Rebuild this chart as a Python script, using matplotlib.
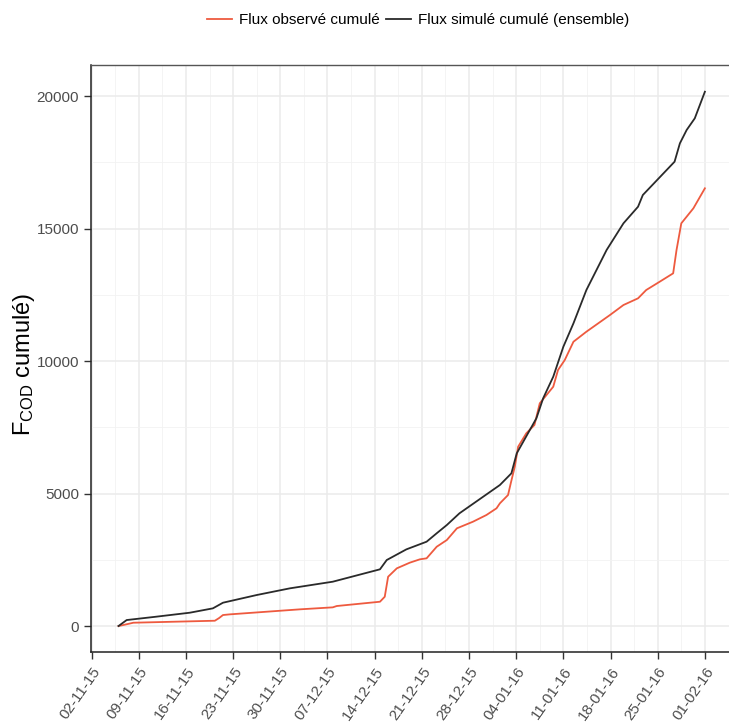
import matplotlib
matplotlib.use("Agg")
import matplotlib.pyplot as plt
import matplotlib.dates as mdates
from matplotlib.ticker import MultipleLocator
import pandas as pd

plt.rcParams['font.family'] = ['Liberation Sans', 'DejaVu Sans']
plt.rcParams['mathtext.default'] = 'regular'

# Flux observé cumulé
obs_dates = ["2015-11-06 00:00", "2015-11-06 17:00", "2015-11-08 05:00", "2015-11-20 07:00",
             "2015-11-20 22:00", "2015-11-21 12:00", "2015-11-22 12:00", "2015-12-02 22:00",
             "2015-12-07 19:00", "2015-12-08 09:00", "2015-12-14 19:00", "2015-12-15 12:00",
             "2015-12-16 00:00", "2015-12-17 07:00", "2015-12-19 05:00", "2015-12-20 17:00",
             "2015-12-21 17:00", "2015-12-23 05:00", "2015-12-24 17:00", "2015-12-26 05:00",
             "2015-12-28 14:00", "2015-12-30 14:00", "2016-01-01 02:00", "2016-01-01 14:00",
             "2016-01-02 19:00", "2016-01-03 05:00", "2016-01-03 19:00", "2016-01-04 07:00",
             "2016-01-05 12:00", "2016-01-06 17:00", "2016-01-07 12:00", "2016-01-09 12:00",
             "2016-01-10 05:00", "2016-01-11 05:00", "2016-01-12 12:00", "2016-01-14 10:00",
             "2016-01-17 22:00", "2016-01-19 22:00", "2016-01-22 02:00", "2016-01-23 07:00",
             "2016-01-25 07:00", "2016-01-27 07:00", "2016-01-27 19:00", "2016-01-28 12:00",
             "2016-01-30 07:00", "2016-02-01 00:00"]
obs_vals = [0, 38, 125, 200, 300, 415, 440, 630, 705, 755, 917, 1105, 1860, 2177, 2390, 2517,
            2555, 2992, 3245, 3687, 3936, 4189, 4442, 4630, 4943, 5400, 6011, 6766, 7272, 7585,
            8404, 9030, 9660, 10038, 10728, 11106, 11736, 12113, 12366, 12679, 12992, 13309,
            14189, 15196, 15762, 16517]

# Flux simulé cumulé (ensemble)
sim_dates = ["2015-11-06 00:00", "2015-11-07 05:00", "2015-11-11 14:00", "2015-11-16 14:00",
             "2015-11-20 00:00", "2015-11-21 12:00", "2015-11-26 12:00", "2015-12-01 10:00",
             "2015-12-07 19:00", "2015-12-14 19:00", "2015-12-15 19:00", "2015-12-18 17:00",
             "2015-12-21 17:00", "2015-12-23 05:00", "2015-12-24 17:00", "2015-12-26 14:00",
             "2016-01-01 14:00", "2016-01-03 07:00", "2016-01-04 02:00", "2016-01-07 00:00",
             "2016-01-08 00:00", "2016-01-09 12:00", "2016-01-11 00:00", "2016-01-12 12:00",
             "2016-01-14 10:00", "2016-01-17 10:00", "2016-01-19 22:00", "2016-01-22 02:00",
             "2016-01-22 19:00", "2016-01-27 12:00", "2016-01-28 07:00", "2016-01-29 07:00",
             "2016-01-30 12:00", "2016-02-01 00:00"]
sim_vals = [0, 226, 352, 503, 667, 880, 1170, 1422, 1673, 2140, 2490, 2893, 3182, 3500, 3811,
            4253, 5321, 5762, 6517, 7838, 8592, 9408, 10540, 11423, 12679, 14189, 15196, 15823,
            16264, 17521, 18215, 18717, 19158, 20162]

tick_start = "2015-11-02"
tick_end = "2016-02-01"

obs_t = pd.to_datetime(obs_dates)
sim_t = pd.to_datetime(sim_dates)

fig = plt.figure(figsize=(7.29, 7.22), dpi=100)
ax = fig.add_axes([91 / 729, 70 / 722, 1 - 91 / 729, 587 / 722])

ax.plot(obs_t, obs_vals, color='#EE5A3F', lw=1.3, label='Flux observé cumulé')
ax.plot(sim_t, sim_vals, color='#2a2a2a', lw=1.3, label='Flux simulé cumulé (ensemble)')

ticks = pd.date_range(tick_start, tick_end, freq='7D')
ax.set_xticks(ticks)
ax.set_xticks(ticks[:-1] + pd.Timedelta(hours=84), minor=True)
ax.xaxis.set_major_formatter(mdates.DateFormatter('%d-%m-%y'))
x0 = pd.Timestamp(tick_start) - pd.Timedelta(hours=2)
ax.set_xlim(x0, x0 + pd.Timedelta(days=94.66))
ax.set_ylim(-980, 21170)
ax.yaxis.set_major_locator(MultipleLocator(5000))
ax.yaxis.set_minor_locator(MultipleLocator(2500))

ax.grid(which='major', color='#ebebeb', lw=1.1)
ax.grid(which='minor', color='#f2f2f2', lw=0.6)
ax.set_axisbelow(True)

for s in ['left', 'bottom']:
    ax.spines[s].set_color('#222222')
    ax.spines[s].set_linewidth(1.1)
ax.spines['top'].set_color('#555555')
ax.spines['top'].set_linewidth(1.0)
ax.spines['right'].set_visible(False)

ax.tick_params(which='major', length=5, width=1, color='#333333', labelcolor='#4d4d4d',
               labelsize=11)
ax.tick_params(which='minor', length=0)
plt.setp(ax.get_xticklabels(), rotation=55, ha='right', va='top', rotation_mode='anchor')
ax.tick_params(axis='x', pad=4)

ax.set_ylabel('F$_{COD}$ cumulé)', fontsize=17)
ax.yaxis.set_label_coords(-0.085, 0.49)

fig.legend(loc='center', bbox_to_anchor=(0.574, 0.972), ncol=2, frameon=False, fontsize=11,
           handlelength=1.6, handletextpad=0.5, columnspacing=0.4)

fig.savefig('out.png', dpi=100)
